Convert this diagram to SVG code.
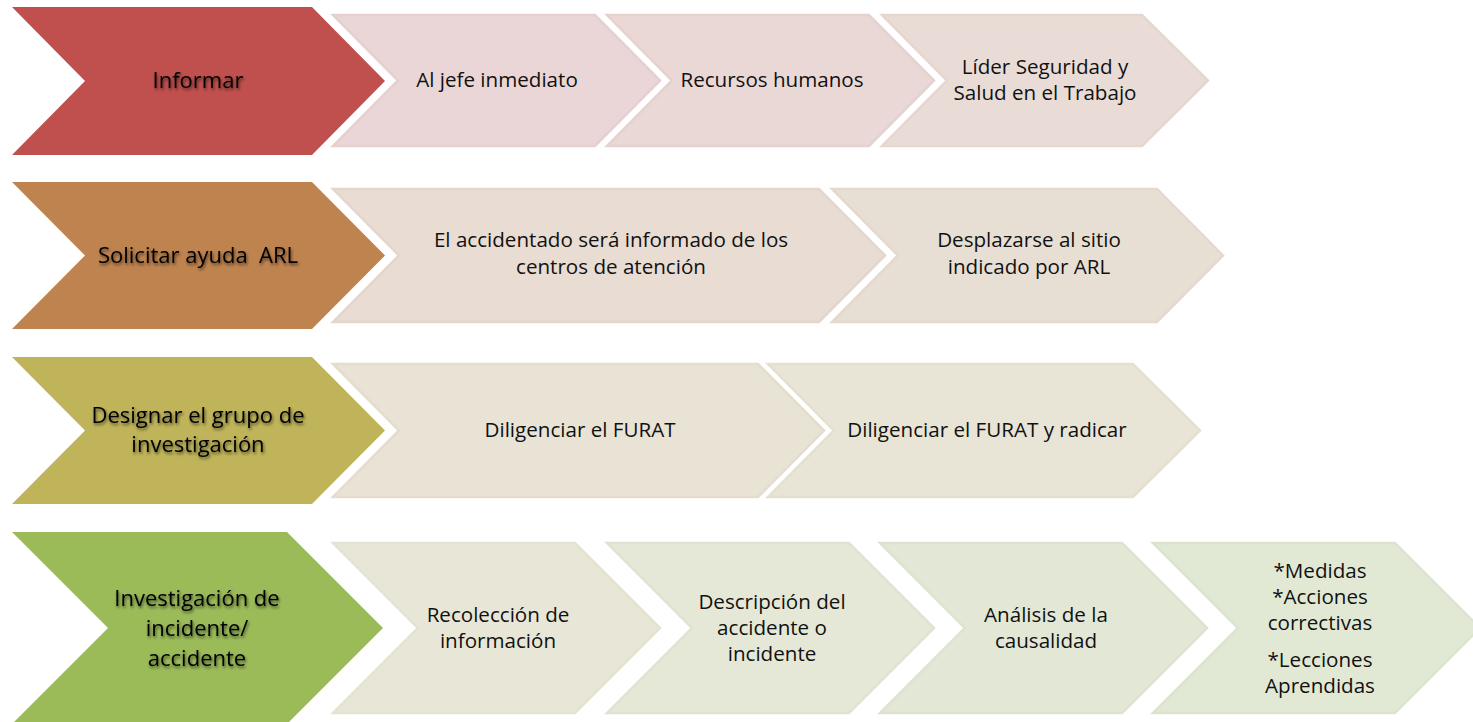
<svg xmlns="http://www.w3.org/2000/svg" width="1473" height="722" viewBox="0 0 1473 722">
<defs>
<filter id="glow" x="-20%" y="-40%" width="140%" height="180%">
<feGaussianBlur in="SourceAlpha" stdDeviation="1.8" result="b"/>
<feOffset in="b" dx="1" dy="1.5" result="o"/>
<feComponentTransfer in="o" result="s"><feFuncA type="linear" slope="0.6"/></feComponentTransfer>
<feMerge><feMergeNode in="s"/><feMergeNode in="SourceGraphic"/></feMerge>
</filter>
</defs>
<style>
.main{stroke:none}
.sec{stroke-width:2.5;stroke-linejoin:miter}
.mt{font-family:"Open Sans","Liberation Sans",sans-serif;font-size:22px;fill:#000;text-anchor:middle;filter:url(#glow)}
.st{font-family:"Open Sans","Liberation Sans",sans-serif;font-size:20.6px;fill:#111;text-anchor:middle}
</style>
<rect width="1473" height="722" fill="#fff"/>

<g id="connectors"></g>

<!-- Row 1 -->
<g id="n-informar">
<polygon class="main" points="12,7 312,7 385,81 312,155 12,155 85,81" fill="#C0504D"/>
<text class="mt" x="198" y="88">Informar</text>
</g>
<g id="n-jefe">
<polygon class="sec" points="333,15 595,15 660,80.5 595,146 333,146 398,80.5" fill="#EAD6D6" stroke="#E6D0CF"/>
<text class="st" x="497" y="87">Al jefe inmediato</text>
</g>
<g id="n-rrhh">
<polygon class="sec" points="607,15 869,15 934,80.5 869,146 607,146 672,80.5" fill="#E9D8D6" stroke="#E5D2CF"/>
<text class="st" x="772" y="87">Recursos humanos</text>
</g>
<g id="n-lider">
<polygon class="sec" points="882,15 1142,15 1208,80.5 1142,146 882,146 947,80.5" fill="#E9DCD6" stroke="#E5D6CF"/>
<text class="st" x="1045" y="74">Líder Seguridad y</text>
<text class="st" x="1045" y="100">Salud en el Trabajo</text>
</g>

<!-- Row 2 -->
<g id="n-solicitar">
<polygon class="main" points="12,182 312,182 385,255.5 312,329 12,329 85,255.5" fill="#BF834F"/>
<text class="mt" x="198" y="263" xml:space="preserve">Solicitar ayuda  ARL</text>
</g>
<g id="n-accidentado">
<polygon class="sec" points="333,189 819,189 885,255.5 819,322 333,322 399,255.5" fill="#E8DCD3" stroke="#E4D6CC"/>
<text class="st" x="611" y="247">El accidentado será informado de los</text>
<text class="st" x="611" y="274">centros de atención</text>
</g>
<g id="n-desplazarse">
<polygon class="sec" points="832,189 1157,189 1223,255.5 1157,322 832,322 898,255.5" fill="#E8DFD4" stroke="#E4D9CD"/>
<text class="st" x="1029" y="247">Desplazarse al sitio</text>
<text class="st" x="1029" y="274">indicado por ARL</text>
</g>

<!-- Row 3 -->
<g id="n-designar">
<polygon class="main" points="12,357 312,357 385,430.5 312,504 12,504 85,430.5" fill="#BFB45A"/>
<text class="mt" x="198" y="423">Designar el grupo de</text>
<text class="mt" x="198" y="452">investigación</text>
</g>
<g id="n-furat">
<polygon class="sec" points="333,364 758,364 824,430.5 758,497 333,497 399,430.5" fill="#E8E3D5" stroke="#E4DDCE"/>
<text class="st" x="580" y="437">Diligenciar el FURAT</text>
</g>
<g id="n-furat-radicar">
<polygon class="sec" points="768,364 1133,364 1200,430.5 1133,497 768,497 834,430.5" fill="#E8E5D6" stroke="#E4E0CF"/>
<text class="st" x="987" y="437">Diligenciar el FURAT y radicar</text>
</g>

<!-- Row 4 -->
<g id="n-investigacion">
<polygon class="main" points="12,532 287,532 383,628 287,724 12,724 108,628" fill="#9BBB59"/>
<text class="mt" x="197" y="606">Investigación de</text>
<text class="mt" x="197" y="636">incidente/</text>
<text class="mt" x="197" y="666">accidente</text>
</g>
<g id="n-recoleccion">
<polygon class="sec" points="333,543 575,543 660,628 575,713 333,713 418,628" fill="#E8E7D7" stroke="#E4E2D0"/>
<text class="st" x="498" y="622">Recolección de</text>
<text class="st" x="498" y="648">información</text>
</g>
<g id="n-descripcion">
<polygon class="sec" points="607,543 849,543 934,628 849,713 607,713 692,628" fill="#E5E8D7" stroke="#E0E3D0"/>
<text class="st" x="772" y="609">Descripción del</text>
<text class="st" x="772" y="635">accidente o</text>
<text class="st" x="772" y="661">incidente</text>
</g>
<g id="n-analisis">
<polygon class="sec" points="880,543 1122,543 1207,628 1122,713 880,713 965,628" fill="#E3E8D6" stroke="#DEE3CF"/>
<text class="st" x="1046" y="622">Análisis de la</text>
<text class="st" x="1046" y="648">causalidad</text>
</g>
<g id="n-medidas">
<polygon class="sec" points="1153,543 1395,543 1480,628 1395,713 1153,713 1238,628" fill="#E1E9D5" stroke="#DCE4CE"/>
<text class="st" x="1320" y="578">*Medidas</text>
<text class="st" x="1320" y="604">*Acciones</text>
<text class="st" x="1320" y="630">correctivas</text>
<text class="st" x="1320" y="667">*Lecciones</text>
<text class="st" x="1320" y="693">Aprendidas</text>
</g>
</svg>
